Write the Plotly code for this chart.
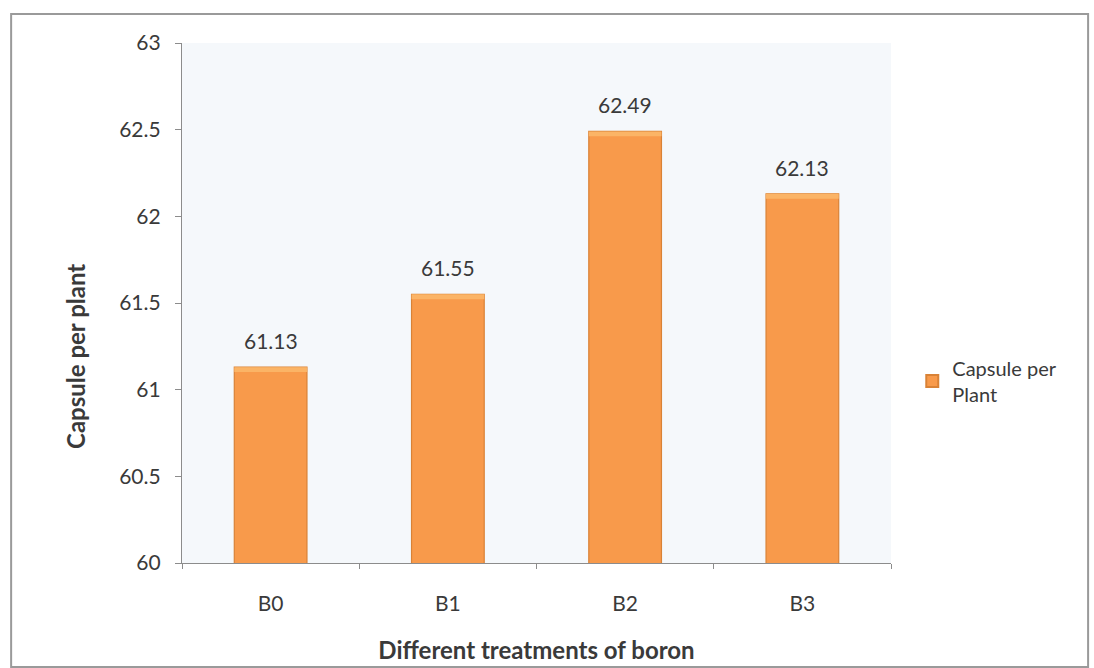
import plotly.graph_objects as go

# Capsule counts per plant under four boron treatments
treatments = ["B0", "B1", "B2", "B3"]
capsules = [61.13, 61.55, 62.49, 62.13]
value_labels = ["61.13", "61.55", "62.49", "62.13"]
series_name = "Capsule per<br>Plant"

y_ticks = [60, 60.5, 61, 61.5, 62, 62.5, 63]
y_tick_text = ["60", "60.5", "61", "61.5", "62", "62.5", "63"]

font_family = "Lato, 'Open Sans', sans-serif"
text_color = "#3a3a3a"
axis_color = "#8c8c8c"
bar_fill = "#F89A4B"
bar_edge = "#D98236"
cap_fill = "#FBB466"
cap_depth = 0.028  # thickness of the lighter bevel along each bar top

fig = go.Figure()
fig.add_trace(go.Bar(
    x=treatments,
    y=capsules,
    name=series_name,
    cliponaxis=False,
    marker=dict(color=bar_fill, line=dict(color=bar_edge, width=1.2)),
    showlegend=True,
    hoverinfo="x+y",
))
# lighter bevel strip at the top of each bar
fig.add_trace(go.Bar(
    x=treatments,
    y=[cap_depth] * len(capsules),
    base=[v - cap_depth for v in capsules],
    marker=dict(color=cap_fill, line=dict(width=0)),
    showlegend=False,
    hoverinfo="skip",
))

# value labels sitting above each bar
annotations = [
    dict(x=t, y=v, text=lbl, xref="x", yref="y", showarrow=False,
         yanchor="bottom", yshift=12,
         font=dict(size=21, color=text_color, family=font_family))
    for t, v, lbl in zip(treatments, capsules, value_labels)
]
# vertical axis title
annotations.append(dict(
    x=-0.151, y=0.398, xref="paper", yref="paper", showarrow=False,
    text="<b>Capsule per plant</b>", textangle=-90,
    xanchor="center", yanchor="middle",
    font=dict(size=24, color=text_color, family=font_family),
))

fig.update_layout(
    width=1094,
    height=668,
    margin=dict(l=182, r=203, t=43, b=105),
    paper_bgcolor="white",
    plot_bgcolor="#F5F8FB",
    font=dict(family=font_family, color=text_color, size=20),
    barmode="overlay",
    bargap=0.59,
    showlegend=True,
    legend=dict(
        x=1.03, y=0.35, xanchor="left", yanchor="middle",
        font=dict(size=20, color=text_color, family=font_family),
        bgcolor="rgba(0,0,0,0)",
        itemsizing="constant",
        itemwidth=30,
    ),
    annotations=annotations,
    xaxis=dict(
        automargin=False,
        showline=True, linecolor=axis_color, linewidth=1.2,
        ticks="outside", tickson="boundaries", ticklen=5, tickcolor=axis_color,
        tickfont=dict(size=21, color=text_color),
        ticklabelstandoff=22,
        showgrid=False,
        title=dict(text="<b>Different treatments of boron</b>",
                   font=dict(size=24, color=text_color), standoff=27),
    ),
    yaxis=dict(
        automargin=False,
        range=[60, 63],
        tickvals=y_ticks, ticktext=y_tick_text,
        showline=True, linecolor=axis_color, linewidth=1.2,
        ticks="outside", ticklen=6, tickcolor=axis_color,
        tickfont=dict(size=21, color=text_color),
        ticklabelstandoff=10,
        showgrid=False, zeroline=False,
    ),
    shapes=[dict(
        type="rect", xref="paper", yref="paper",
        x0=-0.241, x1=1.278, y0=-0.2, y1=1.056,
        line=dict(color="#9a9a9a", width=2), fillcolor="rgba(0,0,0,0)",
        layer="below",
    )],
)

fig.write_html("out.html")
